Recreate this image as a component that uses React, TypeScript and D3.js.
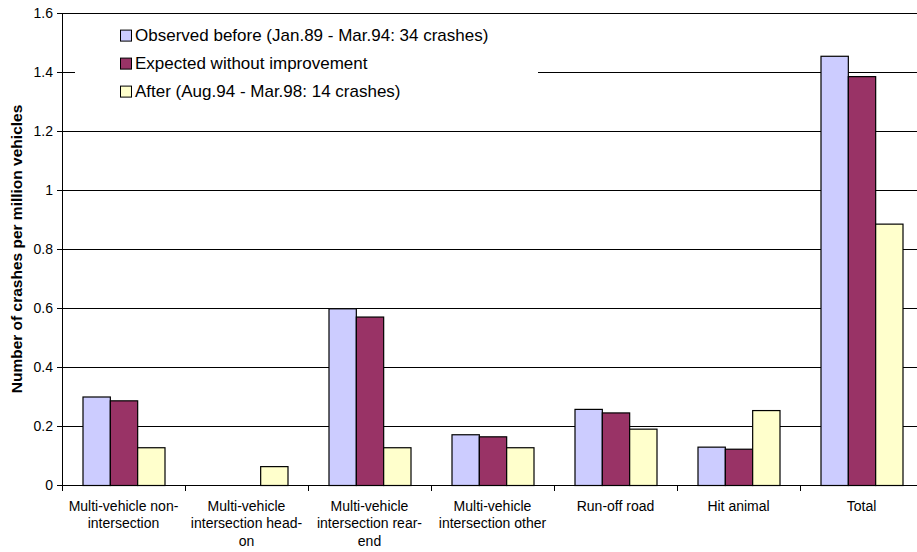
import React from 'react';
import * as d3 from 'd3';

// crash rates per million vehicles
const categories = [
  'Multi-vehicle non-intersection',
  'Multi-vehicle intersection head-on',
  'Multi-vehicle intersection rear-end',
  'Multi-vehicle intersection other',
  'Run-off road',
  'Hit animal',
  'Total',
];
const categoryLines = [
  ['Multi-vehicle non-', 'intersection'],
  ['Multi-vehicle', 'intersection head-', 'on'],
  ['Multi-vehicle', 'intersection rear-', 'end'],
  ['Multi-vehicle', 'intersection other'],
  ['Run-off road'],
  ['Hit animal'],
  ['Total'],
];
const seriesNames = [
  'Observed before (Jan.89 - Mar.94: 34 crashes)',
  'Expected without improvement',
  'After (Aug.94 - Mar.98: 14 crashes)',
];
const observedBefore = [0.3, 0, 0.599, 0.172, 0.258, 0.13, 1.455];
const expectedWithout = [0.287, 0, 0.571, 0.165, 0.246, 0.123, 1.386];
const afterValues = [0.128, 0.064, 0.128, 0.128, 0.191, 0.254, 0.886];
const yTicks = [0, 0.2, 0.4, 0.6, 0.8, 1, 1.2, 1.4, 1.6];
const colors = ['#CCCCFF', '#993366', '#FFFFCC'];

const FONT = '"Liberation Sans", Arial, sans-serif';

export default function App() {
  const width = 917;
  const height = 552;
  const left = 62;
  const right = 923; // plot runs a bit past the window edge
  const top = 13;
  const bottom = 485;

  const series = [observedBefore, expectedWithout, afterValues];

  const x = d3.scaleBand<string>().domain(categories).range([left, right]);
  const inner = d3
    .scaleBand<number>()
    .domain([0, 1, 2])
    .range([0, x.bandwidth()])
    .paddingInner(0)
    .paddingOuter(0.75);
  const y = d3.scaleLinear().domain([0, 1.6]).range([bottom, top]);

  const boundaries = categories.map((c) => x(c) as number).concat([right]);

  return (
    <div style={{ position: 'absolute', left: 0, top: 0 }}>
      <svg width={width} height={height} style={{ display: 'block', background: '#fff' }} fontFamily={FONT}>
        {/* gridlines */}
        {yTicks.slice(1).map((t) => (
          <line key={t} x1={left} x2={right} y1={Math.round(y(t)) + 0.5} y2={Math.round(y(t)) + 0.5} stroke="#000" strokeWidth={1} />
        ))}

        {/* legend box hides the grid behind it */}
        <rect x={75} y={18} width={463} height={88} fill="#fff" />
        {seriesNames.map((name, i) => (
          <g key={name} transform={`translate(0,${40.6 + i * 28})`}>
            <rect x={120.5} y={-10.5} width={11} height={11} fill={colors[i]} stroke="#000" strokeWidth={1} />
            <text x={135} y={0} fontSize={17} fill="#000">
              {name}
            </text>
          </g>
        ))}

        {/* bars */}
        {categories.map((c, ci) => (
          <g key={c} transform={`translate(${x(c)},0)`}>
            {series.map((vals, si) =>
              vals[ci] > 0 ? (
                <rect
                  key={si}
                  x={(inner(si) as number) + 0.5}
                  y={y(vals[ci]) + 0.5}
                  width={inner.bandwidth()}
                  height={bottom - y(vals[ci])}
                  fill={colors[si]}
                  stroke="#000"
                  strokeWidth={1.2}
                />
              ) : null
            )}
          </g>
        ))}

        {/* y axis */}
        <line x1={left + 0.5} x2={left + 0.5} y1={top} y2={bottom} stroke="#000" />
        {yTicks.map((t) => (
          <g key={t}>
            <line x1={left - 5} x2={left} y1={Math.round(y(t)) + 0.5} y2={Math.round(y(t)) + 0.5} stroke="#000" />
            <text x={53} y={y(t)} dy="0.36em" textAnchor="end" fontSize={14} fill="#000">
              {d3.format('~g')(t)}
            </text>
          </g>
        ))}

        {/* x axis */}
        <line x1={left} x2={right} y1={bottom + 0.5} y2={bottom + 0.5} stroke="#000" />
        {boundaries.map((b, i) => (
          <line key={i} x1={Math.round(b) + 0.5} x2={Math.round(b) + 0.5} y1={bottom} y2={bottom + 6} stroke="#000" />
        ))}
        {categories.map((c, ci) => (
          <text key={c} x={(x(c) as number) + x.bandwidth() / 2} y={510.7} textAnchor="middle" fontSize={14} fill="#000">
            {categoryLines[ci].map((line, li) => (
              <tspan key={li} x={(x(c) as number) + x.bandwidth() / 2} dy={li === 0 ? 0 : 17.5}>
                {line}
              </tspan>
            ))}
          </text>
        ))}

        {/* y axis title */}
        <text
          transform={`translate(21.5,${(top + bottom) / 2}) rotate(-90)`}
          textAnchor="middle"
          fontSize={15.5}
          fontWeight="bold"
          fill="#000"
        >
          Number of crashes per million vehicles
        </text>
      </svg>
    </div>
  );
}
